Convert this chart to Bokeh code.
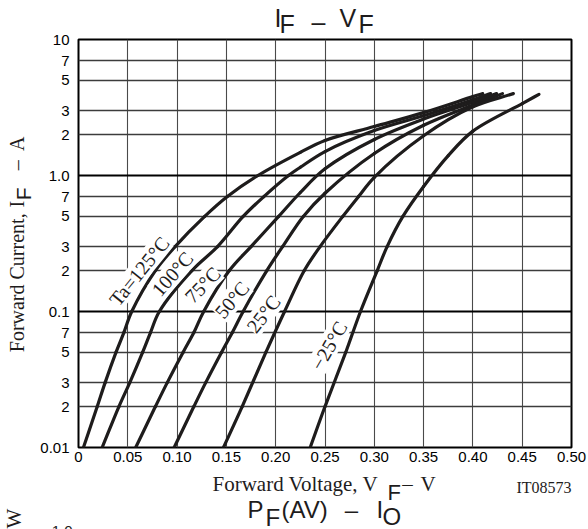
import math
from bokeh.plotting import figure
from bokeh.models import Range1d, FixedTicker, Grid, Label
from bokeh.layouts import column, row
from bokeh.core.properties import value
from bokeh.embed import file_html
from bokeh.resources import INLINE

# ---------------- data ----------------
temps = ["Ta=125°C", "100°C", "75°C", "50°C", "25°C", "\u221225°C"]

i_125 = [0.01, 0.02, 0.03, 0.05, 0.07, 0.1, 0.2, 0.3, 0.5, 0.7, 1.0, 1.48, 1.81, 2.29, 2.9, 3.8, 4.0]
v_125 = [0.005, 0.019, 0.027, 0.038, 0.046, 0.054, 0.078, 0.098, 0.128, 0.151, 0.182, 0.225, 0.25, 0.30, 0.35, 0.40, 0.41]

i_100 = [0.01, 0.02, 0.03, 0.05, 0.07, 0.1, 0.2, 0.3, 0.5, 0.7, 1.0, 1.15, 1.5, 2.14, 2.75, 3.6, 4.0]
v_100 = [0.024, 0.041, 0.052, 0.065, 0.073, 0.082, 0.115, 0.141, 0.167, 0.188, 0.213, 0.225, 0.25, 0.30, 0.35, 0.40, 0.418]

i_75 = [0.01, 0.02, 0.03, 0.05, 0.07, 0.1, 0.2, 0.3, 0.5, 0.75, 1.12, 1.84, 2.6, 3.45, 4.0]
v_75 = [0.058, 0.078, 0.090, 0.106, 0.117, 0.127, 0.153, 0.175, 0.203, 0.225, 0.25, 0.30, 0.35, 0.40, 0.424]

i_50 = [0.01, 0.02, 0.03, 0.05, 0.07, 0.1, 0.2, 0.3, 0.5, 0.74, 1.45, 2.34, 3.3, 4.0]
v_50 = [0.097, 0.117, 0.129, 0.145, 0.156, 0.167, 0.191, 0.207, 0.228, 0.25, 0.30, 0.35, 0.40, 0.43]

i_25 = [0.01, 0.02, 0.05, 0.1, 0.2, 0.3, 0.5, 0.7, 0.97, 1.96, 3.2, 4.0]
v_25 = [0.147, 0.166, 0.190, 0.209, 0.229, 0.245, 0.268, 0.284, 0.30, 0.35, 0.40, 0.441]

i_m25 = [0.01, 0.02, 0.05, 0.1, 0.2, 0.3, 0.5, 0.83, 1.40, 2.12, 3.38, 3.95]
v_m25 = [0.235, 0.250, 0.271, 0.286, 0.303, 0.313, 0.329, 0.35, 0.375, 0.40, 0.45, 0.467]

label_v = [0.0616, 0.0952, 0.1258, 0.1557, 0.1876, 0.254]
label_i = [0.198, 0.189, 0.157, 0.122, 0.096, 0.056]
label_angle_deg = [51, 49, 46, 50, 52, 60]

x_ticks = [0, 0.05, 0.10, 0.15, 0.20, 0.25, 0.30, 0.35, 0.40, 0.45, 0.50]
x_tick_labels = ["0", "0.05", "0.10", "0.15", "0.20", "0.25", "0.30", "0.35", "0.40", "0.45", "0.50"]
y_ticks = [0.01, 0.02, 0.03, 0.05, 0.07, 0.1, 0.2, 0.3, 0.5, 0.7, 1.0, 2, 3, 5, 7, 10]
y_tick_labels = ["0.01", "2", "3", "5", "7", "0.1", "2", "3", "5", "7", "1.0", "2", "3", "5", "7", "10"]
y_minor_grid = [0.02, 0.03, 0.05, 0.07, 0.2, 0.3, 0.5, 0.7, 2, 3, 5, 7]
y_decade_grid = [0.1, 1.0]
x_grid = [0.05, 0.10, 0.15, 0.20, 0.25, 0.30, 0.35, 0.40, 0.45]

# ---------------- page layout (pixels) ----------------
PAGE_W, PAGE_H = 588, 529
TOP_H = 34                 # title strip
LEFT_W = 36                # y-title strip
MID_H = 436                # main figure height (y 34 .. 470)
BOT_H = PAGE_H - TOP_H - MID_H
FRAME_L, FRAME_T, FRAME_R, FRAME_B = 78, 39, 571, 447   # page coords of the plot frame
PX_PER_V = (FRAME_R - FRAME_L) / 0.5
PX_PER_DEC = (FRAME_B - FRAME_T) / 3.0
INK = "#1e1c1c"
SANS, SERIF = "Liberation Sans", "Liberation Serif"

# ---------------- main figure ----------------
MAIN_W = PAGE_W - LEFT_W
p = figure(width=MAIN_W, height=MID_H, y_axis_type="log",
           x_range=Range1d(0, 0.5), y_range=Range1d(0.01, 10),
           output_backend="svg", toolbar_location=None,
           min_border_left=FRAME_L - LEFT_W, min_border_right=PAGE_W - FRAME_R,
           min_border_top=FRAME_T - TOP_H, min_border_bottom=TOP_H + MID_H - FRAME_B)
p.outline_line_color = "black"
p.outline_line_width = 2
p.background_fill_color = "white"
p.border_fill_color = "white"

for ax in (p.xaxis[0], p.yaxis[0]):
    ax.axis_line_color = None
    ax.major_tick_line_color = None
    ax.minor_tick_line_color = None
    ax.major_tick_out = 0
    ax.major_tick_in = 0
    ax.minor_tick_out = 0
    ax.major_label_text_font = SANS
    ax.major_label_text_font_size = "15px"
    ax.major_label_text_color = "black"

p.xaxis.ticker = FixedTicker(ticks=x_ticks)
p.xaxis.major_label_overrides = {t: s for t, s in zip(x_ticks, x_tick_labels)}
p.xaxis.major_label_standoff = 4
p.yaxis.ticker = FixedTicker(ticks=y_ticks)
p.yaxis.major_label_overrides = {t: s for t, s in zip(y_ticks, y_tick_labels)}
p.yaxis.major_label_standoff = 9

p.xgrid.ticker = FixedTicker(ticks=x_grid)
p.xgrid.grid_line_color = "#4a4a4a"
p.xgrid.grid_line_width = 1.1
p.ygrid.ticker = FixedTicker(ticks=y_minor_grid)
p.ygrid.grid_line_color = "#3c3c3c"
p.ygrid.grid_line_width = 1.3
p.add_layout(Grid(dimension=1, ticker=FixedTicker(ticks=y_decade_grid),
                  grid_line_color="black", grid_line_width=2))

# ---------------- curves (smooth Bezier through the read points) ----------------
def bezier_through(vs, cs):
    """Centripetal Catmull-Rom through the points, expressed as cubic Bezier segments."""
    pts = [(v * PX_PER_V, math.log10(c) * PX_PER_DEC) for v, c in zip(vs, cs)]
    n = len(pts)
    first = (2 * pts[0][0] - pts[1][0], 2 * pts[0][1] - pts[1][1])
    last = (2 * pts[-1][0] - pts[-2][0], 2 * pts[-1][1] - pts[-2][1])
    ext = [first] + pts + [last]
    seg = {k: [] for k in ("x0", "y0", "x1", "y1", "cx0", "cy0", "cx1", "cy1")}

    def back(P):
        return P[0] / PX_PER_V, 10 ** (P[1] / PX_PER_DEC)

    for k in range(n - 1):
        P0, P1, P2, P3 = ext[k], ext[k + 1], ext[k + 2], ext[k + 3]
        l1 = math.dist(P0, P1); l2 = math.dist(P1, P2); l3 = math.dist(P2, P3)
        a1, a2, a3 = math.sqrt(l1), math.sqrt(l2), math.sqrt(l3)
        B1 = tuple((l1 * P2[j] - l2 * P0[j] + (2 * l1 + 3 * a1 * a2 + l2) * P1[j]) / (3 * a1 * (a1 + a2)) for j in (0, 1))
        B2 = tuple((l3 * P1[j] - l2 * P3[j] + (2 * l3 + 3 * a3 * a2 + l2) * P2[j]) / (3 * a3 * (a3 + a2)) for j in (0, 1))
        for key, P in (("0", P1), ("1", P2)):
            xx, yy = back(P)
            seg["x" + key].append(xx); seg["y" + key].append(yy)
        xx, yy = back(B1); seg["cx0"].append(xx); seg["cy0"].append(yy)
        xx, yy = back(B2); seg["cx1"].append(xx); seg["cy1"].append(yy)
    return seg

series = [(v_125, i_125), (v_100, i_100), (v_75, i_75), (v_50, i_50), (v_25, i_25), (v_m25, i_m25)]
for vs, cs in series:
    s = bezier_through(vs, cs)
    p.bezier(x0=s["x0"], y0=s["y0"], x1=s["x1"], y1=s["y1"],
             cx0=s["cx0"], cy0=s["cy0"], cx1=s["cx1"], cy1=s["cy1"],
             line_color=INK, line_width=3.2, line_cap="round")

for t, lv, li, la in zip(temps, label_v, label_i, label_angle_deg):
    p.add_layout(Label(x=lv, y=li, text=t, angle=math.radians(la),
                       text_align="center", text_baseline="middle",
                       text_font=SERIF, text_font_size="20px",
                       text_color=INK, background_fill_color="white",
                       padding=0))

# ---------------- text strips around the main figure ----------------
def strip(w, h):
    f = figure(width=w, height=h, x_range=Range1d(0, w), y_range=Range1d(0, h),
               output_backend="svg", toolbar_location=None,
               x_axis_location=None, y_axis_location=None, min_border=0)
    f.grid.visible = False
    f.outline_line_color = None
    f.background_fill_color = "white"
    f.border_fill_color = "white"
    return f

MID_K = {SANS: 0.346, SERIF: 0.337}   # baseline -> middle of the text box, in em

def put(f, top, s, px, py, font, size, rotated=False, align="left"):
    """Horizontal: (px, py) = page position of the baseline start (or centre when align='center').
       Rotated (reading upwards): px = baseline x, py = page y of the text centre."""
    k = MID_K[font] * size
    if rotated:
        ax_, ay_, al = px - k, py, "center"
    else:
        ax_, ay_, al = px, py - k, align
    f.text(x=[ax_], y=[f.height - (ay_ - top)], text=[s],
           angle=(math.pi / 2 if rotated else 0.0),
           text_align=al, text_baseline="middle",
           text_font=value(font), text_font_size=value(f"{size}px"), text_color=INK)

top_fig = strip(PAGE_W, TOP_H)
left_fig = strip(LEFT_W, MID_H)
bot_fig = strip(PAGE_W, BOT_H)

# main title  I_F - V_F
put(top_fig, 0, "I", 274, 26, SANS, 25)
put(top_fig, 0, "F", 279, 32.5, SANS, 25)
put(top_fig, 0, "\u2013", 318, 30, SANS, 25, align="center")
put(top_fig, 0, "V", 339, 26, SANS, 25)
put(top_fig, 0, "F", 358, 32.5, SANS, 25)

# y axis title (rotated, centres along the text)
put(left_fig, TOP_H, "Forward Current,", 23, 294, SERIF, 20, rotated=True)
put(left_fig, TOP_H, "I", 23, 210, SERIF, 20, rotated=True)
put(left_fig, TOP_H, "F", 30, 199, SANS, 21, rotated=True)
put(left_fig, TOP_H, "\u2013", 23, 168.5, SERIF, 20, rotated=True)
put(left_fig, TOP_H, "A", 23, 145.5, SERIF, 20, rotated=True)

# x axis title and code
B0 = TOP_H + MID_H
put(bot_fig, B0, "Forward Voltage, V", 212, 491, SERIF, 21)
put(bot_fig, B0, "F", 387, 500, SANS, 22)
put(bot_fig, B0, "\u2013", 407, 491, SERIF, 21, align="center")
put(bot_fig, B0, "V", 420, 491, SERIF, 21)
put(bot_fig, B0, "IT08573", 516, 492, SERIF, 16)

# start of the next chart (cut off at the bottom of the page)
put(bot_fig, B0, "P", 247, 517, SANS, 24)
put(bot_fig, B0, "F", 265, 525, SANS, 24)
put(bot_fig, B0, "(AV)", 281, 517, SANS, 24)
put(bot_fig, B0, "\u2013", 351, 517, SANS, 24, align="center")
put(bot_fig, B0, "I", 376, 517, SANS, 24)
put(bot_fig, B0, "O", 382, 524, SANS, 24)
put(bot_fig, B0, "W", 21, 518, SERIF, 21, rotated=True)
put(bot_fig, B0, "1.0", 72, 536, SANS, 15, align="right")

layout = column(top_fig, row(left_fig, p), bot_fig)
open("out.html", "w").write(file_html(layout, INLINE))
